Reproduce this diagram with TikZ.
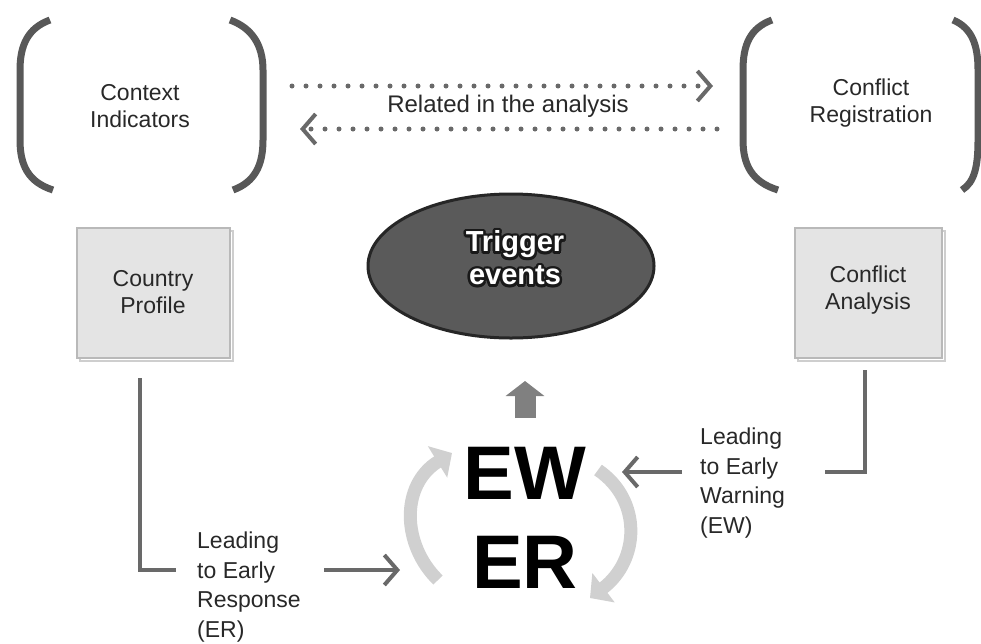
\documentclass[tikz,border=0pt]{standalone}
\usepackage{fontspec}
\setmainfont{Liberation Sans}
\usetikzlibrary{arrows.meta,shapes.geometric}

\definecolor{brackgray}{RGB}{88,88,88}
\definecolor{linegray}{RGB}{105,105,105}
\definecolor{txtgray}{RGB}{40,40,40}
\definecolor{boxfill}{RGB}{228,228,228}
\definecolor{boxline}{RGB}{185,185,185}
\definecolor{cyclegray}{RGB}{208,208,208}
\definecolor{eventfill}{RGB}{90,90,90}

\tikzset{
  bracket/.style={draw=brackgray, line width=7pt, line cap=butt},
  txt/.style={text=txtgray, font=\fontsize{23}{27}\selectfont, align=center, inner sep=0pt},
  sidetxt/.style={text=txtgray, font=\fontsize{23}{29.5}\selectfont, align=left, inner sep=0pt, anchor=north west},
  greybox/.style={fill=boxfill, draw=boxline, line width=1.5pt},
  dots/.style={draw=linegray, line width=5pt, line cap=round, dash pattern=on 0pt off 14pt},
  chev/.tip={Straight Barb[length=13pt, width=30pt, line width=4pt]},
  conn/.style={draw=linegray, line width=4pt},
  cycarrow/.style={draw=cyclegray, line width=13pt, -{Triangle[length=17pt, width=36pt]}},
  bigtxt/.style={font=\fontsize{76}{76}\selectfont\bfseries, inner sep=0pt},
  trigfont/.style={font=\fontsize{29}{33}\selectfont\bfseries, align=center, inner sep=0pt}
}

\begin{document}
\begin{tikzpicture}[x=1pt,y=1pt,yscale=-1,xscale=1]
\useasboundingbox (0,0) rectangle (981,643);

%Shape: Brackets, left pair
\draw [bracket] (50,20) .. controls (28,28) and (20,45) .. (20,70) -- (20,140) .. controls (20,165) and (28,182) .. (53,190) ;
\draw [bracket] (230,20) .. controls (252,28) and (263,45) .. (263,70) -- (263,140) .. controls (263,165) and (255,182) .. (233,190) ;
%Shape: Brackets, right pair
\draw [bracket] (772,20) .. controls (750,28) and (743,45) .. (743,70) -- (743,140) .. controls (743,165) and (752,182) .. (778,190) ;
\draw [bracket] (953,20) .. controls (972,28) and (978,45) .. (978,70) -- (978,140) .. controls (978,165) and (975,182) .. (962,190) ;

% Text Node
\draw (140,106) node (ctx) [txt] {Context\\Indicators};
% Text Node
\draw (871,103) node (reg) [txt] {Conflict\\Registration};
% Text Node
\draw (508,106) node (rel) [txt, font=\fontsize{24}{28}\selectfont] {Related in the analysis};

%Straight Lines: dotted, both ways
\coordinate (relA) at (292,86);
\coordinate (relB) at (713,86);
\coordinate (relC) at (717,129);
\coordinate (relD) at (300,129);
\draw [dots, -chev] (relA) -- (relB) ;
\draw [dots, -chev] (relC) -- (relD) ;

%Shape: Rectangle, country profile
\draw [boxline!70, line width=2pt] (80,231) rectangle (233,361) ;
\draw [greybox] (77,228) rectangle (230,358) ;
\draw (153,292) node (cp) [txt] {Country\\Profile};
%Shape: Rectangle, conflict analysis
\draw [boxline!70, line width=2pt] (798,231) rectangle (945,361) ;
\draw [greybox] (795,228) rectangle (942,358) ;
\draw (868,290) node (ca) [txt] {Conflict\\Analysis};

%Shape: Ellipse, trigger events
\draw (511,266) node (trig) [ellipse, fill=eventfill, draw=black!85, line width=3pt, minimum width=286, minimum height=144] {} ;
\foreach \a in {0,30,...,330}
  \draw ([shift={(\a:2.6)}]515,258) node [trigfont, text=black!90] {Trigger\\events};
\draw (515,258) node (trigtxt) [trigfont, text=white] {Trigger\\events};

% Text Node
\draw (525,473) node (ew) [bigtxt] {EW};
% Text Node
\draw (525,562) node (er) [bigtxt] {ER};

%Block arrow, up to trigger events
\coordinate (upfoot) at (525,418);
\coordinate (uptip) at (525,381);
\draw [draw=black!50, line width=21pt, -{Triangle[length=15pt, width=38pt]}] (upfoot) -- (uptip) ;

%Curve Lines: cycle arrows
\coordinate (cycLa) at (438,580);
\coordinate (cycLb) at (452,453);
\coordinate (cycRa) at (598,470);
\coordinate (cycRb) at (590,598);
\draw [cycarrow] (cycLa) .. controls (402,545) and (400,485) .. (cycLb) ;
\draw [cycarrow] (cycRa) .. controls (642,500) and (640,560) .. (cycRb) ;

%Straight Lines: left L, leading to early response
\coordinate (cpfoot) at (140,378);
\coordinate (cpend) at (176,570);
\draw [conn] (cpfoot) |- (cpend) ;
\draw (197,532) node (lter) [sidetxt] {Leading\\to Early\\Response\\(ER)};
\coordinate (erA) at (324,570);
\coordinate (erB) at (400,570);
\draw [conn, -chev] (erA) -- (erB) ;

%Straight Lines: right L, leading to early warning
\coordinate (cafoot) at (865,370);
\coordinate (caend) at (825,472);
\draw [conn] (cafoot) |- (caend) ;
\draw (700,428) node (ltew) [sidetxt] {Leading\\to Early\\Warning\\(EW)};
\coordinate (ewA) at (682,472);
\coordinate (ewB) at (622,472);
\draw [conn, -chev] (ewA) -- (ewB) ;

\end{tikzpicture}
\end{document}
